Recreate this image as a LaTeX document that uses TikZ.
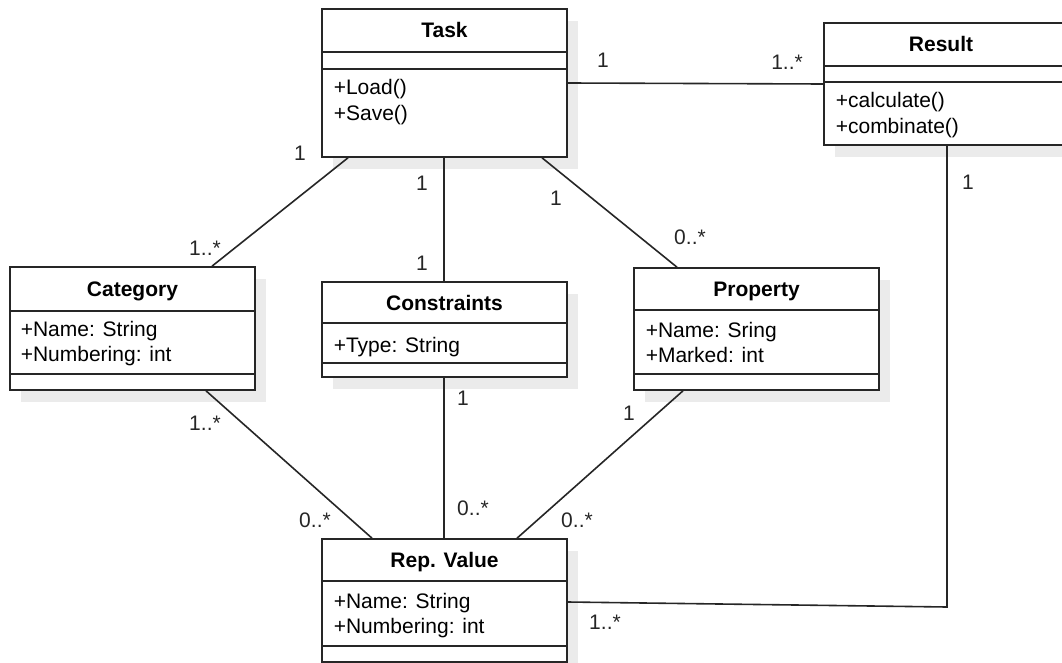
\documentclass[tikz,border=0pt]{standalone}
\usepackage{fontspec}
\setmainfont{Liberation Sans}
\usetikzlibrary{shadows}
\begin{document}
\begin{tikzpicture}[x=1pt,y=-1pt,line width=1.6pt,draw=black!85,
  cls/.style={draw=black!85, fill=white, inner sep=0pt,
    drop shadow={shadow xshift=11pt, shadow yshift=-12pt, fill=black!8, opacity=1}},
  ttl/.style={font=\fontsize{21}{25}\selectfont\bfseries, anchor=base, inner sep=0pt},
  mbr/.style={font=\fontsize{21}{25}\selectfont, anchor=base west, inner sep=0pt},
  mult/.style={font=\fontsize{21}{25}\selectfont, text=black!85, inner sep=0pt}]
\useasboundingbox (0,0) rectangle (1062,663);
% class boxes
\node[cls, minimum width=245pt, minimum height=148pt] (task) at (444.5,83) {};
\node[cls, minimum width=240pt, minimum height=122pt] (result) at (944,84) {};
\node[cls, minimum width=245pt, minimum height=123pt] (category) at (132.5,328.5) {};
\node[cls, minimum width=245pt, minimum height=95pt] (constraints) at (444.5,329.5) {};
\node[cls, minimum width=245pt, minimum height=122pt] (property) at (756.5,329) {};
\node[cls, minimum width=245pt, minimum height=123pt] (repvalue) at (444.5,600.5) {};
% compartments
\draw (task.west |- 0,52)--(task.east |- 0,52);
\draw (task.west |- 0,69)--(task.east |- 0,69);
\draw (result.west |- 0,66)--(result.east |- 0,66);
\draw (result.west |- 0,82)--(result.east |- 0,82);
\draw (category.west |- 0,311)--(category.east |- 0,311);
\draw (category.west |- 0,374)--(category.east |- 0,374);
\draw (constraints.west |- 0,323)--(constraints.east |- 0,323);
\draw (constraints.west |- 0,363)--(constraints.east |- 0,363);
\draw (property.west |- 0,310)--(property.east |- 0,310);
\draw (property.west |- 0,374)--(property.east |- 0,374);
\draw (repvalue.west |- 0,581)--(repvalue.east |- 0,581);
\draw (repvalue.west |- 0,646)--(repvalue.east |- 0,646);
% names and members
\node[ttl] (tasktitle) at (444.5,38) {Task};
\node[mbr] (taskload) at (333,94.5) {+Load()};
\node[mbr] (tasksave) at (333,120.5) {+Save()};
\node[ttl] (resulttitle) at (941,52) {Result};
\node[mbr] (resultcalc) at (835,108) {+calculate()};
\node[mbr] (resultcomb) at (835,134) {+combinate()};
\node[ttl] (categorytitle) at (132.5,296.5) {Category};
\node[mbr] (categoryname) at (20,336) {+Name: String};
\node[mbr] (categorynum) at (20,361) {+Numbering: int};
\node[ttl] (constraintstitle) at (444.5,310) {Constraints};
\node[mbr] (constraintstype) at (333,352) {+Type: String};
\node[ttl] (propertytitle) at (756.5,296.5) {Property};
\node[mbr] (propertyname) at (645,337) {+Name: Sring};
\node[mbr] (propertymarked) at (645,362) {+Marked: int};
\node[ttl] (repvaluetitle) at (444.5,567.5) {Rep. Value};
\node[mbr] (repvaluename) at (333,608) {+Name: String};
\node[mbr] (repvaluenum) at (333,633) {+Numbering: int};
% associations
\draw (task.east |- 0,83)--(result.west |- 0,84);
\draw (task.south -| 348,0)--(category.north -| 212,0);
\draw (task.south -| 444,0)--(constraints.north -| 444,0);
\draw (task.south -| 542,0)--(property.north -| 677,0);
\draw (category.south -| 206,0)--(repvalue.north -| 372,0);
\draw (constraints.south -| 444,0)--(repvalue.north -| 444,0);
\draw (property.south -| 683,0)--(repvalue.north -| 517,0);
\coordinate (bend) at (947,607);
\draw (result.south -| bend)--(bend)--(repvalue.east |- 0,602);
% multiplicities
\node[mult] (m1) at (603,60) {1};
\node[mult] (m2) at (787,62) {1..*};
\node[mult] (m3) at (968,182) {1};
\node[mult] (m4) at (300,153) {1};
\node[mult] (m5) at (205,248) {1..*};
\node[mult] (m6) at (422,183) {1};
\node[mult] (m7) at (422,263) {1};
\node[mult] (m8) at (556,198) {1};
\node[mult] (m9) at (690,237) {0..*};
\node[mult] (m10) at (205,423) {1..*};
\node[mult] (m11) at (315,520) {0..*};
\node[mult] (m12) at (463,398) {1};
\node[mult] (m13) at (473,508) {0..*};
\node[mult] (m14) at (629,413) {1};
\node[mult] (m15) at (577,520) {0..*};
\node[mult] (m16) at (605,622) {1..*};
\end{tikzpicture}
\end{document}
